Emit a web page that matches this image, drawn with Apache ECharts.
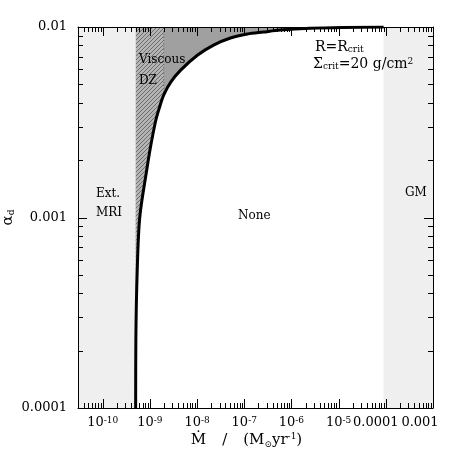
<!DOCTYPE html>
<html><head><meta charset="utf-8">
<script src="https://cdn.jsdelivr.net/npm/echarts@6/dist/echarts.min.js"></script>
<style>html,body{margin:0;padding:0;background:#fff}#c{width:458px;height:458px}</style>
</head><body><div id="c"></div>
<script>
// ---- data ----
const mdot  = [5.0e-10, 5.05e-10, 5.4e-10, 6.1e-10, 8.6e-10, 1.05e-9, 1.34e-9, 1.585e-9, 1.97e-9, 2.77e-9, 4.5e-9, 1.03e-8, 2.24e-8, 5.1e-8, 1.17e-7, 2.55e-7, 5.8e-7, 2.5e-6, 1.25e-5, 9.0e-5];
const alpha = [1.0e-4, 2.3e-4, 5.3e-4, 1.0e-3, 1.78e-3, 2.4e-3, 3.25e-3, 3.76e-3, 4.4e-3, 5.14e-3, 5.94e-3, 7.13e-3, 8.04e-3, 8.76e-3, 9.19e-3, 9.41e-3, 9.64e-3, 9.85e-3, 9.95e-3, 9.99e-3];
const hatchCount = 9;             // hatched strip: curve points up to ~2e-9
const extMriEdge = 5e-10;         // Ext. MRI region right edge
const gmEdge = 9e-5;              // GM region left edge (dashed line)
const xMin = 3e-11, xMax = 1e-3, yMin = 1e-4, yMax = 1e-2;
const xTickExp = [-10, -9, -8, -7, -6, -5, -4, -3];
const xTickText = ['10{s|-10}', '10{s|-9}', '10{s|-8}', '10{s|-7}', '10{s|-6}', '10{s|-5}', '{a|0.0001}', '{b|0.001}'];
const yTickExp = [-4, -3, -2];
const yTickText = ['0.0001', '0.001', '0.01'];

const FONT = 'DejaVu Serif';
const curve = mdot.map((m, i) => [m, alpha[i]]);
const hatch = curve.slice(0, hatchCount);

// tick marks (major decades + minor 2..9)
const tickData = [];
for (let e = -11; e <= -3; e++) {
  for (let k = 1; k <= 9; k++) {
    const v = k * Math.pow(10, e);
    if (v >= xMin * 0.999 && v <= xMax * 1.001) tickData.push([v, yMin, 0, k === 1 ? 1 : 0]);
  }
}
for (let e = -4; e <= -2; e++) {
  for (let k = 1; k <= 9; k++) {
    const v = k * Math.pow(10, e);
    if (v >= yMin * 0.999 && v <= yMax * 1.001) tickData.push([xMin, v, 1, k === 1 ? 1 : 0]);
  }
}

// hatch pattern
const cv = document.createElement('canvas'); cv.width = 4; cv.height = 4;
const cx = cv.getContext('2d');
cx.fillStyle = '#b4b4b4'; cx.fillRect(0, 0, 4, 4);
cx.strokeStyle = '#6e6e6e'; cx.lineWidth = 1;
cx.beginPath(); cx.moveTo(0, 4); cx.lineTo(4, 0); cx.moveTo(-1, 1); cx.lineTo(1, -1); cx.moveTo(3, 5); cx.lineTo(5, 3); cx.stroke();

function xLabel(v) {
  const e = Math.log10(v); const r = Math.round(e);
  if (Math.abs(e - r) > 1e-6) return '';
  const i = xTickExp.indexOf(r); return i < 0 ? '' : xTickText[i];
}
function yLabel(v) {
  const e = Math.log10(v); const r = Math.round(e);
  if (Math.abs(e - r) > 1e-6) return '';
  const i = yTickExp.indexOf(r); return i < 0 ? '' : yTickText[i];
}

const chart = echarts.init(document.getElementById('c'), null, {renderer: 'canvas'});
const axisLineStyle = {show: true, onZero: false, lineStyle: {color: '#000', width: 1}};
chart.setOption({
  animation: false,
  backgroundColor: '#fff',
  grid: {left: 78, right: 25, top: 27, bottom: 50, containLabel: false, outerBoundsMode: 'none'},
  xAxis: [
    {type: 'log', logBase: 10, min: xMin, max: xMax, position: 'bottom', z: 10,
     axisLine: axisLineStyle, axisTick: {show: false}, splitLine: {show: false}, minorTick: {show: false},
     axisLabel: {formatter: xLabel, margin: 8, color: '#000', fontFamily: FONT, fontSize: 13, showMinLabel: false,
       rich: {s: {fontSize: 9, fontFamily: FONT, verticalAlign: 'top', lineHeight: 9},
              a: {fontSize: 13, fontFamily: FONT, padding: [0, 20, 0, 0]},
              b: {fontSize: 13, fontFamily: FONT, padding: [0, 26, 0, 0]}}},
     name: '{t|\u1E40}{g|/}{t|(M}{sub|\u2299}{t|yr}{sup|-1}{e|)}', nameLocation: 'middle', nameGap: 24,
     nameMoveOverlap: false,
     nameTextStyle: {color: '#000', fontFamily: FONT, fontSize: 15,
       rich: {t: {fontSize: 15, fontFamily: FONT, lineHeight: 17},
              e: {fontSize: 15, fontFamily: FONT, lineHeight: 17, padding: [0, 18, 0, 0]},
              g: {fontSize: 15, fontFamily: FONT, lineHeight: 17, padding: [0, 16, 0, 16]},
              sub: {fontSize: 9, fontFamily: FONT, verticalAlign: 'bottom', lineHeight: 9},
              sup: {fontSize: 9, fontFamily: FONT, verticalAlign: 'top', lineHeight: 9}}}},
    {type: 'log', logBase: 10, min: xMin, max: xMax, position: 'top', z: 10,
     axisLine: axisLineStyle, axisTick: {show: false}, axisLabel: {show: false}, splitLine: {show: false}}
  ],
  yAxis: [
    {type: 'log', logBase: 10, min: yMin, max: yMax, position: 'left', z: 10,
     axisLine: axisLineStyle, axisTick: {show: false}, splitLine: {show: false},
     axisLabel: {formatter: yLabel, margin: 11, color: '#000', fontFamily: FONT, fontSize: 13},
     name: '\u03B1{sub|d}', nameLocation: 'middle', nameGap: 62, nameRotate: 90, nameMoveOverlap: false,
     nameTextStyle: {color: '#000', fontFamily: FONT, fontSize: 15,
       rich: {sub: {fontSize: 9, fontFamily: FONT, verticalAlign: 'bottom', lineHeight: 9}}}},
    {type: 'log', logBase: 10, min: yMin, max: yMax, position: 'right', z: 10,
     axisLine: axisLineStyle, axisTick: {show: false}, axisLabel: {show: false}, splitLine: {show: false}}
  ],
  series: [
    {type: 'line', name: 'regions', data: [], z: 1, silent: true,
     markArea: {silent: true, itemStyle: {color: '#efefef'},
       data: [[{xAxis: xMin}, {xAxis: extMriEdge}], [{xAxis: gmEdge}, {xAxis: xMax}]]},
     markLine: {silent: true, symbol: 'none', label: {show: false},
       lineStyle: {color: '#000', width: 1, type: [10, 5]},
       data: [{xAxis: gmEdge}]}},
    {type: 'line', name: 'dz', data: curve, symbol: 'none', smooth: 0.3, z: 2, silent: true,
     lineStyle: {width: 0}, areaStyle: {color: '#a0a0a0', opacity: 1, origin: 'end'}},
    {type: 'line', name: 'hatch', data: hatch, symbol: 'none', smooth: 0.3, z: 3, silent: true,
     lineStyle: {width: 0}, areaStyle: {color: {image: cv, repeat: 'repeat'}, opacity: 1, origin: 'end'}},
    {type: 'line', name: 'edge', data: [[hatch[hatchCount - 1][0], hatch[hatchCount - 1][1]], [hatch[hatchCount - 1][0], yMax]],
     symbol: 'none', z: 4, silent: true, lineStyle: {color: '#666', width: 1, type: [1, 2]}},
    {type: 'line', name: 'curve', data: curve, symbol: 'none', smooth: 0.3, z: 5, silent: true,
     lineStyle: {color: '#000', width: 3}},
    {type: 'custom', name: 'ticks', data: tickData, z: 11, silent: true, clip: false,
     encode: {x: 0, y: 1},
     renderItem: function (params, api) {
       const cs = params.coordSys;
       const kind = api.value(2), major = api.value(3);
       const len = major ? 9 : 5;
       const p = api.coord([api.value(0), api.value(1)]);
       const st = {stroke: '#000', lineWidth: 1};
       if (kind === 0) {
         const x = Math.round(p[0]) + 0.5;
         return {type: 'group', children: [
           {type: 'line', shape: {x1: x, y1: cs.y + cs.height, x2: x, y2: cs.y + cs.height - len}, style: st},
           {type: 'line', shape: {x1: x, y1: cs.y, x2: x, y2: cs.y + len}, style: st}]};
       }
       const y = Math.round(p[1]) + 0.5;
       return {type: 'group', children: [
         {type: 'line', shape: {x1: cs.x, y1: y, x2: cs.x + len, y2: y}, style: st},
         {type: 'line', shape: {x1: cs.x + cs.width, y1: y, x2: cs.x + cs.width - len, y2: y}, style: st}]};
     }}
  ],
  graphic: [
    {type: 'text', left: 96, top: 188, z: 20, style: {text: 'Ext.', font: '12px "DejaVu Serif"', fill: '#000'}},
    {type: 'text', left: 96, top: 207, z: 20, style: {text: 'MRI', font: '12px "DejaVu Serif"', fill: '#000'}},
    {type: 'text', left: 139, top: 54, z: 20, style: {text: 'Viscous', font: '12px "DejaVu Serif"', fill: '#000'}},
    {type: 'text', left: 139, top: 75, z: 20, style: {text: 'DZ', font: '12px "DejaVu Serif"', fill: '#000'}},
    {type: 'text', left: 238, top: 210, z: 20, style: {text: 'None', font: '12px "DejaVu Serif"', fill: '#000'}},
    {type: 'text', left: 405, top: 187, z: 20, style: {text: 'GM', font: '12px "DejaVu Serif"', fill: '#000'}},
    {type: 'text', left: 315, top: 40, z: 20, style: {text: 'R=R{s|crit}', font: '14px "DejaVu Serif"', fill: '#000',
      rich: {s: {fontSize: 9, fontFamily: FONT, verticalAlign: 'bottom', lineHeight: 9}}}},
    {type: 'text', left: 313, top: 57, z: 20, style: {text: '\u03A3{s|crit}=20 g/cm{p|2}', font: '14px "DejaVu Serif"', fill: '#000',
      rich: {s: {fontSize: 9, fontFamily: FONT, verticalAlign: 'bottom', lineHeight: 9},
             p: {fontSize: 9, fontFamily: FONT, verticalAlign: 'top', lineHeight: 9}}}}
  ]
});
</script></body></html>
